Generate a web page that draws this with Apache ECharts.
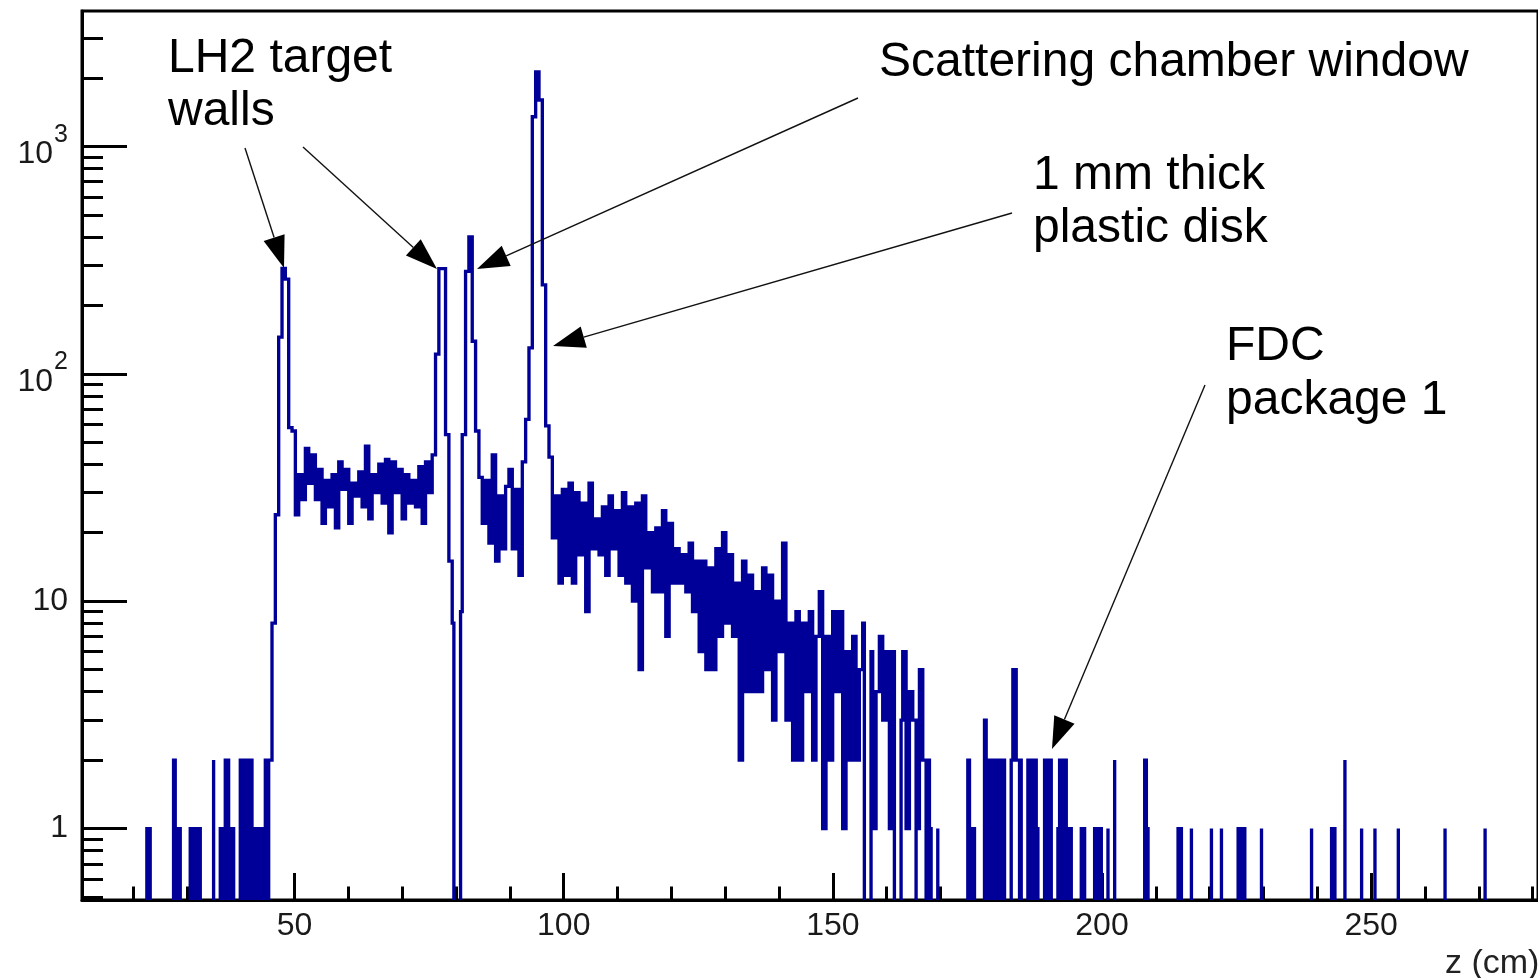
<!DOCTYPE html>
<html><head><meta charset="utf-8">
<script src="https://cdn.jsdelivr.net/npm/echarts@6/dist/echarts.min.js"></script>
<style>html,body{margin:0;padding:0;background:#fff}#c{width:1538px;height:978px}</style>
</head><body><div id="c"></div>
<script>
// ---- histogram binning (z in cm) ----
const binWidth = 0.62;
const firstEdge = -10;           // edge of bin 0
const firstBin = 33, lastBin = 470;

// ---- bin contents (segment start bin + counts) ----
const sparseLeftStart = 52;
const sparseLeft = [1,1,0,0,0,0,0,0,2,1,1,0,0,1,1,1,1,0,0,0,2,0,1,1,2,1,1,0,2,1,2,2,1,1,1,1,2,2];
const leftWallStart = 90;
const leftWall = [8,24,145,291,261,58,56];
const flatTargetStart = 97;
const flatTarget = [24,36,28,47,33,44,28,38,22,34,26,36,21,41,31,38,22,33,29,37,26,48,23,36,30,40,27,42,20,41,30,38,23,36,27,34,26,39,22,41,30,44];
const windowPeaksStart = 139;
const windowPeaks = [122,290,290,54,15,8,0,9,54,282,400,139,56];
const flatWindowStart = 152;
const flatWindow = [35,22,34,18,44,15,29,17,32,38,17,31,13,41];
const diskPeakStart = 166;
const diskPeak = [63,130,1350,2124,1600,246,59,43];
const decayStart = 174;
const decay = [19,29,12,31,13,33,12,30,16,27, 9,33,17,23,16,26,13,29,17,25, 13,30,12,26,10,27,5,29,14,20, 11,21,11,25,7,22,12,17,12,16, 11,18,9,15,6,15,5,14,5,17, 7,20,8,16,7,12,2,15,4,13, 4,11,4,14,5,13,3,10,6,18, 3,8,2,9];
const denseTailStart = 248;
const denseTail = [2,8,4,9,2,7,11,1,7,2,9,4,9,1,6,2,7,2,5,8,0,6,1,4,7,3,6,1,6,0,3,6,1,4,3,1,5,2,2,1,0,1];
const sparseTailBins   = [298,299,300,303,304,305,306,307,308,309,311,312,313,314,316,317,318,319,321,322,323,325,326,327,328,329,332,333,336,337,338,340,342,351,352,361,362,365,371,374,379,380,381,386,401,407,408,411,416,420,427,441,453];
const sparseTailCounts = [2,1,1,3,1,2,1,2,2,2,2,5,2,2,2,2,2,1,2,2,2,1,2,2,1,1,1,1,1,1,1,1,2,2,1,1,1,1,1,1,1,1,1,1,1,1,1,2,1,1,1,1,1];

// ---- axes ----
const xMin = 10.5, xMax = 281;
const yMin = 0.485, yMax = 3940;
const majorTicksX = [50,100,150,200,250];
const minorTicksX = [20,30,40,60,70,80,90,110,120,130,140,160,170,180,190,210,220,230,240,260,270,280];
const majorTicksY = [1,10,100,1000];
const minorTicksY = [0.5,0.6,0.7,0.8,0.9,2,3,4,5,6,7,8,9,20,30,40,50,60,70,80,90,200,300,400,500,600,700,800,900,2000,3000];

// ---- annotations ----
const labels = [
  {text:'LH2 target', x:168, y:59},
  {text:'walls', x:168, y:112},
  {text:'Scattering chamber window', x:879, y:63},
  {text:'1 mm thick', x:1033, y:176},
  {text:'plastic disk', x:1033, y:229},
  {text:'FDC', x:1226, y:347},
  {text:'package 1', x:1226, y:401}
];
const arrows = [
  [245,148,284,268],
  [303,147,437,269],
  [858,98,477,269],
  [1012,213,553,346],
  [1205,385,1052,749]
];

// build counts per bin
const counts = new Array(lastBin - firstBin + 1).fill(0);
function put(start, arr){ arr.forEach((v,i)=>{ counts[start+i-firstBin] = v; }); }
put(sparseLeftStart, sparseLeft);
put(leftWallStart, leftWall);
put(flatTargetStart, flatTarget);
put(windowPeaksStart, windowPeaks);
put(flatWindowStart, flatWindow);
put(diskPeakStart, diskPeak);
put(decayStart, decay);
put(denseTailStart, denseTail);
sparseTailBins.forEach((b,i)=>{ counts[b-firstBin] = sparseTailCounts[i]; });
const edges = [];
for (let j = 0; j <= counts.length; j++) edges.push(firstEdge + binWidth*(firstBin + j));

const FONT = '"Liberation Sans", Arial, Helvetica, sans-serif';
const HCOL = '#000099';
const LABCOL = '#1a1a1a';
const floorVal = 0.1;
const lowCount = 3;

const chart = echarts.init(document.getElementById('c'), null, {renderer:'canvas'});

const graphics = [];
labels.forEach(l => graphics.push({type:'text', x:l.x, y:l.y, z:100,
  style:{text:l.text, font:'48px ' + FONT, fill:'#000', textAlign:'left', textVerticalAlign:'middle'}}));
arrows.forEach(a => {
  const [sx,sy,tx,ty] = a; const L = 32, W = 22;
  const dx = tx-sx, dy = ty-sy, d = Math.hypot(dx,dy); const ux = dx/d, uy = dy/d;
  const bx = tx - ux*L, by = ty - uy*L; const px = -uy*W/2, py = ux*W/2;
  graphics.push({type:'line', z:100, shape:{x1:sx,y1:sy,x2:bx,y2:by}, style:{stroke:'#111', lineWidth:1.4}});
  graphics.push({type:'polygon', z:100, shape:{points:[[tx,ty],[bx+px,by+py],[bx-px,by-py]]}, style:{fill:'#000'}});
});
graphics.push({type:'text', x:1445, y:964, z:100, style:{text:'z (cm)', font:'34px ' + FONT, fill:'#222', textAlign:'left', textVerticalAlign:'middle'}});

const option = {
  animation:false,
  backgroundColor:'#fff',
  grid:{left:82, top:11, width:(xMax-xMin)*5.4, height:889, show:true, borderColor:'#000', borderWidth:3, backgroundColor:'transparent'},
  xAxis:[
    {type:'value', min:xMin, max:xMax, position:'bottom',
     axisLine:{show:true, onZero:false, lineStyle:{color:'#000', width:3}},
     axisTick:{show:true, inside:true, length:27, customValues:majorTicksX, lineStyle:{color:'#000', width:3}},
     axisLabel:{show:true, customValues:majorTicksX, fontSize:32, fontFamily:FONT, color:LABCOL, margin:10},
     splitLine:{show:false}},
    {type:'value', min:xMin, max:xMax, position:'bottom',
     axisLine:{show:false},
     axisTick:{show:true, inside:true, length:13.5, customValues:minorTicksX, lineStyle:{color:'#000', width:3}},
     axisLabel:{show:false}, splitLine:{show:false}}
  ],
  yAxis:[
    {type:'log', logBase:10, min:yMin, max:yMax, position:'left',
     axisLine:{show:true, onZero:false, lineStyle:{color:'#000', width:3}},
     axisTick:{show:true, inside:true, length:45, customValues:majorTicksY, lineStyle:{color:'#000', width:3}},
     axisLabel:{show:true, customValues:majorTicksY, margin:14, color:LABCOL, fontFamily:FONT, fontSize:32,
       formatter:function(v){ if (v < 5) return '{b|1}'; if (v < 50) return '{b|10}'; if (v < 500) return '{p|10}{s|2}'; return '{p|10}{s|3}'; },
       rich:{ b:{fontSize:32, fontFamily:FONT, color:LABCOL},
              p:{fontSize:32, fontFamily:FONT, color:LABCOL, lineHeight:48, verticalAlign:'bottom'},
              s:{fontSize:25, fontFamily:FONT, color:LABCOL, lineHeight:48, verticalAlign:'top', padding:[0,0,0,1]} }},
     splitLine:{show:false}},
    {type:'log', logBase:10, min:yMin, max:yMax, position:'left',
     axisLine:{show:false},
     axisTick:{show:true, inside:true, length:21, customValues:minorTicksY, lineStyle:{color:'#000', width:3}},
     axisLabel:{show:false}, splitLine:{show:false}}
  ],
  series:[{
    type:'custom', coordinateSystem:'cartesian2d', xAxisIndex:0, yAxisIndex:0, clip:true, z:1,
    data:[[edges[40], 1]],
    renderItem:function(params, api){
      // stroke as wide as one bin on screen
      const lw = Math.abs(api.coord([edges[41], 1])[0] - api.coord([edges[40], 1])[0]);
      const h = lw/2;
      const yOf = v => api.coord([edges[40], v > 0 ? v : floorVal])[1];
      const yBottom = yOf(0);
      const pts = [];
      let prevV = 0;
      let prevY = yBottom;
      for (let j = 0; j <= counts.length; j++){
        const v = j < counts.length ? counts[j] : 0;
        const x = api.coord([edges[j], 1])[0];
        const y = yOf(v);
        if (prevV > 0 && v > 0 && prevV <= lowCount && v <= lowCount){
          // neighbouring low bins: the edge reaches down to the frame, so low clusters look solid
          pts.push([x, prevY], [x, yBottom], [x, y]);
        } else {
          // step edges sit on the bin boundary; next to empty bins they are drawn inside the filled bin
          let off = 0;
          if (prevV === 0 && v > 0) off = h;
          else if (v === 0 && prevV > 0) off = -h;
          pts.push([x + off, prevY], [x + off, y]);
        }
        prevV = v; prevY = y;
      }
      return {type:'polyline', shape:{points:pts}, style:{stroke:HCOL, lineWidth:lw, fill:null, lineJoin:'miter', miterLimit:4}};
    }
  }],
  graphic:graphics
};
chart.setOption(option);
</script>
</body></html>
